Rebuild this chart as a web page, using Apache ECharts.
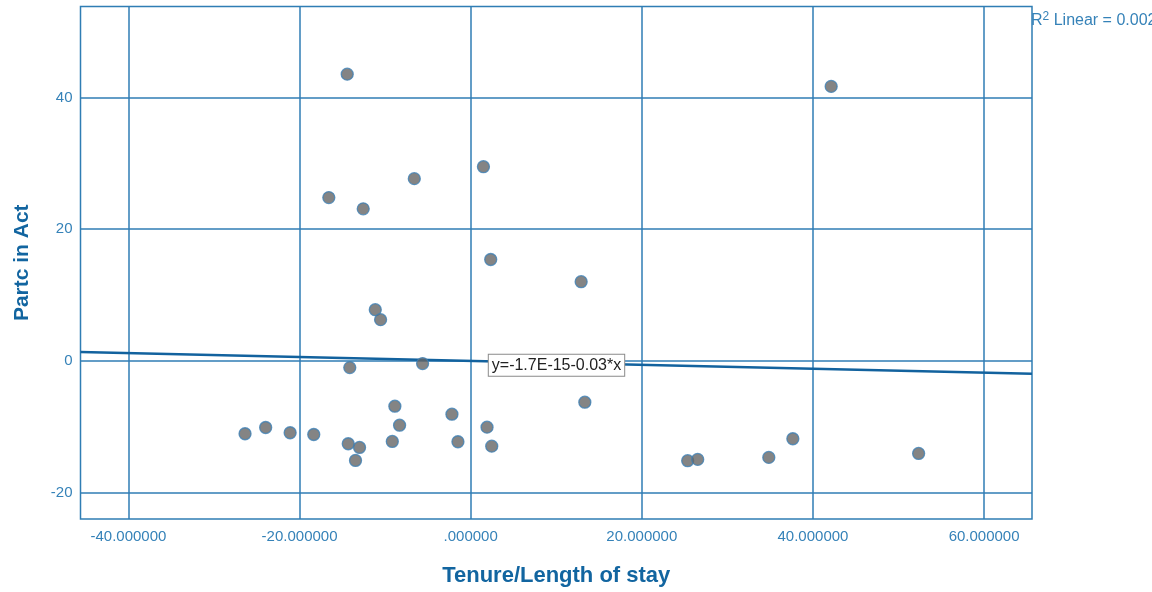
<!DOCTYPE html>
<html>
<head>
<meta charset="utf-8">
<script src="https://cdn.jsdelivr.net/npm/echarts@6/dist/echarts.min.js"></script>
<style>html,body{margin:0;padding:0;background:#fff;}#c{width:1152px;height:592px;}</style>
</head>
<body>
<div id="c"></div>
<script>
// Data
const tenure = [-14.43, 42.13, 1.49, -6.59, -16.58, -12.56, 2.34, 12.91, -11.15, -10.53,
  -14.13, -5.62, -8.86, 13.34, -2.19, -8.31, 1.91, -26.37, -23.96, -21.10,
  -18.34, -14.31, -12.99, -13.46, -9.16, -1.49, 2.46, 25.36, 26.53, 34.84,
  37.65, 52.35];
const partc = [43.53, 41.67, 29.48, 27.67, 24.79, 23.08, 15.39, 12.02, 7.77, 6.26,
  -1.02, -0.41, -6.88, -6.27, -8.09, -9.76, -10.06, -11.06, -10.11, -10.91,
  -11.17, -12.58, -13.14, -15.11, -12.23, -12.27, -12.94, -15.15, -14.95, -14.65,
  -11.82, -14.05];
const xTicks = [-40, -20, 0, 20, 40, 60];
const yTicks = [-20, 0, 20, 40];
const xRange = [-45.6, 65.6];
const yRange = [-24, 53.8];
// Linear fit reported on the chart: y = -1.7E-15 - 0.03*x
const fitIntercept = -1.7e-15;
const fitSlope = -0.03;
const fitLabel = 'y=-1.7E-15-0.03*x';
const r2Label = '0.002';

const points = tenure.map((x, i) => [x, partc[i]]);
const fitLine = xRange.map(x => [x, fitIntercept + fitSlope * x]);

const gridColor = '#2f7db4';
const labelColor = '#3582b8';
const titleColor = '#1265a0';
const font = '"Liberation Sans", Arial, sans-serif';

const chart = echarts.init(document.getElementById('c'), null, {renderer: 'canvas'});
const option = {
  animation: false,
  backgroundColor: '#ffffff',
  grid: {left: 80.5, right: 120, top: 6.5, bottom: 72, show: true,
    borderColor: gridColor, borderWidth: 1.5, backgroundColor: 'transparent'},
  xAxis: {
    type: 'value', min: xRange[0], max: xRange[1],
    name: 'Tenure/Length of stay', nameLocation: 'middle', nameGap: 46,
    nameTextStyle: {color: titleColor, fontSize: 22, fontWeight: 'bold', fontFamily: font},
    axisLine: {show: false},
    axisTick: {show: false, customValues: xTicks},
    axisLabel: {customValues: xTicks, color: labelColor, fontSize: 15, fontFamily: font, margin: 10,
      formatter: v => (Math.abs(v) < 1e-9 ? '.000000' : v.toFixed(6))},
    splitLine: {show: true, lineStyle: {color: gridColor, width: 1.5}}
  },
  yAxis: {
    type: 'value', min: yRange[0], max: yRange[1],
    name: 'Partc in Act', nameLocation: 'middle', nameGap: 48,
    nameTextStyle: {color: titleColor, fontSize: 21, fontWeight: 'bold', fontFamily: font},
    axisLine: {show: false},
    axisTick: {show: false, customValues: yTicks},
    axisLabel: {customValues: yTicks, color: labelColor, fontSize: 15, fontFamily: font, margin: 8,
      formatter: v => String(v)},
    splitLine: {show: true, lineStyle: {color: gridColor, width: 1.5}}
  },
  series: [
    {
      type: 'line', data: fitLine, showSymbol: false, symbol: 'none', silent: true,
      lineStyle: {color: '#12629e', width: 2.5}, z: 3
    },
    {
      type: 'scatter', data: points, symbolSize: 12, z: 4,
      itemStyle: {color: '#656565', borderColor: '#3d80b4', borderWidth: 1.3}
    }
  ]
};
chart.setOption(option);

const tl = chart.convertToPixel({gridIndex: 0}, [2.0, 1.1]);
chart.setOption({
  graphic: [
    {
      type: 'text', left: tl[0], top: tl[1], z: 10,
      style: {text: fitLabel, fill: '#222', font: '16px ' + font,
        backgroundColor: '#fff', borderColor: '#8a8a8a', borderWidth: 1,
        padding: [3, 3, 2, 3]}
    },
    {
      type: 'text', left: 1031, top: 11, z: 10,
      style: {
        rich: {
          r: {fill: labelColor, fontSize: 16, fontFamily: font},
          sup: {fill: labelColor, fontSize: 12, fontFamily: font, verticalAlign: 'top', padding: [0, 0, 7, 0]}
        },
        text: '{r|R}{sup|2}{r| Linear = ' + r2Label + '}'
      }
    }
  ]
});
</script>
</body>
</html>
